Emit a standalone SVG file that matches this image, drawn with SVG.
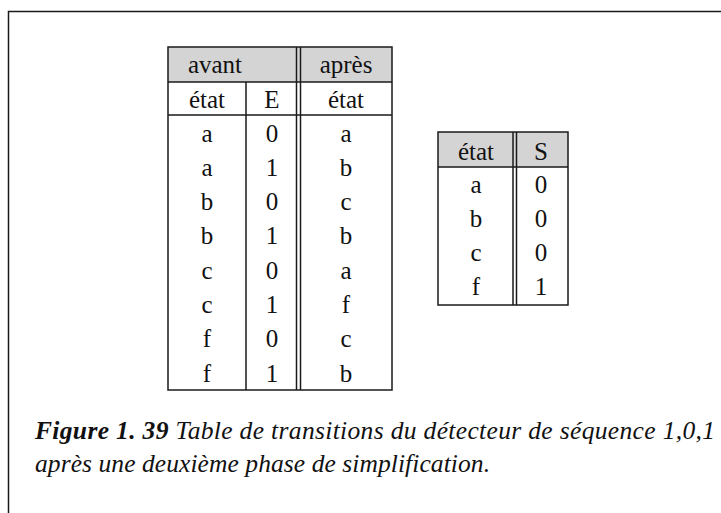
<svg xmlns="http://www.w3.org/2000/svg" width="721" height="513" viewBox="0 0 721 513">
<style>
.ln{stroke:#1a1a1a;stroke-width:1.5;fill:none}
.hd{fill:#d4d4d4}
.t{font-family:"Liberation Serif","Times New Roman",serif;font-size:25px;fill:#111;text-anchor:middle}
.cap{font-family:"Liberation Serif","Times New Roman",serif;font-size:25.5px;font-style:italic;fill:#111}
</style>
<rect x="0" y="0" width="721" height="513" fill="#fff"/>
<path class="ln" d="M8.5,530 V11.5 H740" stroke-width="2"/>
<g id="table1">
<rect class="hd" x="168" y="47" width="224" height="35"/>
<rect class="ln" x="168" y="47" width="224" height="343"/>
<path class="ln" d="M168,82 H392 M168,115 H392 M246,82 V390 M296.5,47 V390 M300.5,47 V390"/>
<text class="t" x="215" y="73">avant</text>
<text class="t" x="346" y="73">après</text>
<text class="t" x="207" y="108">état</text>
<text class="t" x="272" y="108">E</text>
<text class="t" x="346" y="108">état</text>
<g>
<text class="t" x="207" y="141.5">a</text><text class="t" x="272" y="141.5">0</text><text class="t" x="346" y="141.5">a</text>
<text class="t" x="207" y="175.8">a</text><text class="t" x="272" y="175.8">1</text><text class="t" x="346" y="175.8">b</text>
<text class="t" x="207" y="210.1">b</text><text class="t" x="272" y="210.1">0</text><text class="t" x="346" y="210.1">c</text>
<text class="t" x="207" y="244.4">b</text><text class="t" x="272" y="244.4">1</text><text class="t" x="346" y="244.4">b</text>
<text class="t" x="207" y="278.7">c</text><text class="t" x="272" y="278.7">0</text><text class="t" x="346" y="278.7">a</text>
<text class="t" x="207" y="313">c</text><text class="t" x="272" y="313">1</text><text class="t" x="346" y="313">f</text>
<text class="t" x="207" y="347.3">f</text><text class="t" x="272" y="347.3">0</text><text class="t" x="346" y="347.3">c</text>
<text class="t" x="207" y="381.6">f</text><text class="t" x="272" y="381.6">1</text><text class="t" x="346" y="381.6">b</text>
</g>
</g>
<g id="table2">
<rect class="hd" x="438" y="132" width="130" height="35"/>
<rect class="ln" x="438" y="132" width="130" height="173"/>
<path class="ln" d="M438,167 H568 M513,132 V305 M516.5,132 V305"/>
<text class="t" x="476" y="160">état</text>
<text class="t" x="541" y="160">S</text>
<text class="t" x="476" y="193">a</text><text class="t" x="541" y="193">0</text>
<text class="t" x="476" y="227">b</text><text class="t" x="541" y="227">0</text>
<text class="t" x="476" y="261">c</text><text class="t" x="541" y="261">0</text>
<text class="t" x="476" y="295">f</text><text class="t" x="541" y="295">1</text>
</g>
<g id="caption">
<text class="cap" x="35" y="439" textLength="680" lengthAdjust="spacing"><tspan font-weight="bold">Figure 1. 39</tspan> Table de transitions du détecteur de séquence 1,0,1</text>
<text class="cap" x="35" y="472" textLength="455" lengthAdjust="spacing">après une deuxième phase de simplification.</text>
</g>
</svg>
